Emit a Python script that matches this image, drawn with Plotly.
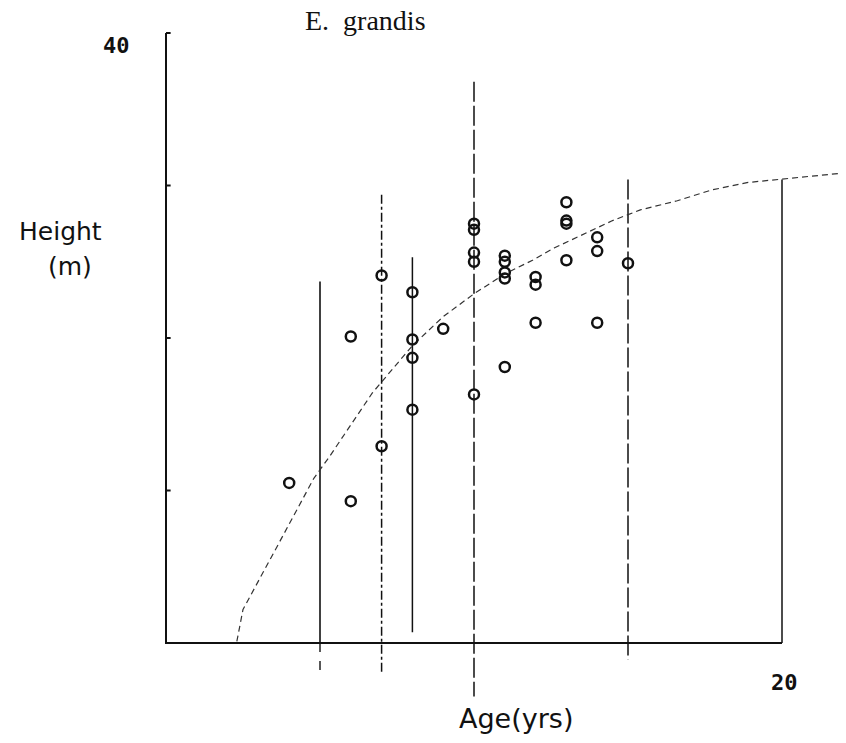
import plotly.graph_objects as go

# Observed tree heights (m) by stand age (yrs)
ages = [4, 6, 6, 7, 7, 8, 8, 8, 8, 9,
        10, 10, 10, 10, 10, 11, 11, 11, 11, 11,
        12, 12, 12, 13, 13, 13, 13, 14, 14, 14, 15]
heights = [10.5, 20.1, 9.3, 24.1, 12.9, 23.0, 19.9, 18.7, 15.3, 20.6,
           27.5, 27.1, 25.6, 25.0, 16.3, 25.4, 25.0, 24.3, 23.9, 18.1,
           24.0, 23.5, 21.0, 28.9, 27.7, 27.5, 25.1, 26.6, 25.7, 21.0, 24.9]

# Fitted height-age curve
curve_age = [2.3, 2.5, 3.6, 4.8, 5.3, 6.7, 8, 9, 10, 11, 11.9, 12.6,
             14.5, 15.4, 16.6, 17.7, 18.9, 19.9, 21.9]
curve_h = [0.1, 2.2, 6.3, 10.8, 12.2, 16.4, 19.5, 21.4, 22.9, 24.2, 25.1, 25.9,
           27.7, 28.4, 29.0, 29.7, 30.2, 30.4, 30.8]

# Vertical range bars
range_age = [5, 7, 8, 10, 15, 20]
range_top = [23.7, 29.4, 25.3, 36.8, 30.4, 30.4]
range_bottom = [-1.8, -2.0, 0.7, -3.5, -1.1, 0.0]
range_dash = ["solid", "dashdot", "solid", "longdash", "longdash", "solid"]

y_ticks = [10, 20, 30, 40]
x_max, y_max = 20, 40

ink = "#111111"
fig = go.Figure()

for a, top, bot, d in zip(range_age, range_top, range_bottom, range_dash):
    if bot < 0 and d == "solid":
        fig.add_trace(go.Scatter(x=[a, a], y=[top, 0], mode="lines",
                                 line=dict(color=ink, width=1.6, dash="solid"),
                                 hoverinfo="skip", showlegend=False))
        fig.add_trace(go.Scatter(x=[a, a], y=[0, bot], mode="lines",
                                 line=dict(color=ink, width=1.4, dash="dash"),
                                 hoverinfo="skip", showlegend=False))
    else:
        fig.add_trace(go.Scatter(x=[a, a], y=[top, bot], mode="lines",
                                 line=dict(color=ink, width=1.5,
                                           dash="20px,4px" if d == "longdash" else d),
                                 hoverinfo="skip", showlegend=False))

fig.add_trace(go.Scatter(x=curve_age, y=curve_h, mode="lines",
                         line=dict(color="#333333", width=1.2, dash="6px,4px"),
                         hoverinfo="skip", showlegend=False))

# Axes drawn as plain lines spanning 0..20 and 0..40
fig.add_trace(go.Scatter(x=[0, 0, x_max], y=[y_max, 0, 0], mode="lines",
                         line=dict(color=ink, width=2),
                         hoverinfo="skip", showlegend=False))
for t in y_ticks:
    fig.add_trace(go.Scatter(x=[0, 0.15], y=[t, t], mode="lines",
                             line=dict(color=ink, width=2),
                             hoverinfo="skip", showlegend=False))

fig.add_trace(go.Scatter(x=ages, y=heights, mode="markers",
                         marker=dict(symbol="circle-open", size=10, color=ink,
                                     line=dict(width=2.5, color=ink)),
                         showlegend=False))

label_font = dict(family="DejaVu Sans", size=25, color=ink)
num_font = dict(family="DejaVu Sans Mono", size=22, color=ink)
fig.add_annotation(x=0, y=y_max, text="<b>40</b>", showarrow=False, xanchor="right",
                   xshift=-34, yshift=-12, font=num_font)
fig.add_annotation(x=x_max, y=0, text="<b>20</b>", showarrow=False, xanchor="center",
                   xshift=2, yshift=-39, font=num_font)
fig.add_annotation(x=0, y=y_max, text="E.  grandis", showarrow=False, xanchor="center",
                   xshift=199, yshift=13, font=dict(family="Liberation Serif", size=28, color=ink))
fig.add_annotation(x=0, y=y_max - 13, text="Height", showarrow=False, xanchor="center",
                   xshift=-106, yshift=0, font=label_font)
fig.add_annotation(x=0, y=y_max - 13, text="(m)", showarrow=False, xanchor="center",
                   xshift=-96, yshift=-35, font=label_font)
fig.add_annotation(x=10, y=0, text="Age(yrs)", showarrow=False, xanchor="center",
                   xshift=42, yshift=-75, font=dict(family="DejaVu Sans", size=27, color=ink))

# Pixel mapping: age 0 at x=166, 30.8 px/yr; height 0 at y=643, 15.25 px/m
W, H = 846, 743
px_x, x0 = 30.8, 166
px_y, y0 = 15.25, 643
fig.update_xaxes(range=[-x0 / px_x, (W - x0) / px_x], visible=False, fixedrange=True)
fig.update_yaxes(range=[(y0 - H) / px_y, y0 / px_y], visible=False, fixedrange=True)
fig.update_layout(width=W, height=H, margin=dict(l=0, r=0, t=0, b=0),
                  plot_bgcolor="white", paper_bgcolor="white")

fig.write_html("out.html")
